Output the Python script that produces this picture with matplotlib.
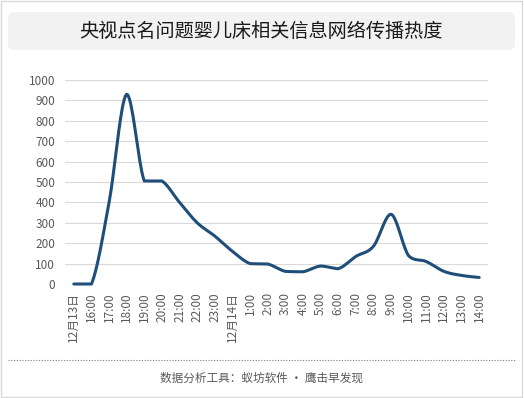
import numpy as np
import matplotlib
matplotlib.use("Agg")
import matplotlib.pyplot as plt
from matplotlib.patches import FancyBboxPatch, Rectangle
from matplotlib.lines import Line2D

plt.rcParams['font.family'] = ['Noto Sans CJK SC', 'DejaVu Sans']

# ---------------- data ----------------
title = "央视点名问题婴儿床相关信息网络传播热度"
footer = "数据分析工具：蚁坊软件 · 鹰击早发现"

hours = ["12月13日", "16:00", "17:00", "18:00", "19:00", "20:00", "21:00", "22:00", "23:00",
         "12月14日", "1:00", "2:00", "3:00", "4:00", "5:00", "6:00", "7:00", "8:00",
         "9:00", "10:00", "11:00", "12:00", "13:00", "14:00"]
heat = [0, 0, 400, 930, 505, 505, 400, 300, 235,
        160, 100, 98, 62, 60, 88, 75, 135, 185,
        342, 138, 110, 62, 42, 32]
y_ticks = [0, 100, 200, 300, 400, 500, 600, 700, 800, 900, 1000]


def smooth(xs, ys, steps=20):
    # bezier smoothing like the spreadsheet "smoothed line",
    # control points kept inside each segment's range so it doesn't overshoot
    xs = np.asarray(xs, float)
    ys = np.asarray(ys, float)
    px = np.concatenate([[xs[0]], xs, [xs[-1]]])
    py = np.concatenate([[ys[0]], ys, [ys[-1]]])
    t = np.linspace(0, 1, steps, endpoint=False)
    bez = lambda a, b1, b2, d: ((1 - t) ** 3 * a + 3 * (1 - t) ** 2 * t * b1
                                + 3 * (1 - t) * t ** 2 * b2 + t ** 3 * d)
    out_x, out_y = [], []
    for i in range(1, len(px) - 2):
        p0, p1, p2, p3 = py[i - 1], py[i], py[i + 1], py[i + 2]
        q0, q1, q2, q3 = px[i - 1], px[i], px[i + 1], px[i + 2]
        lo, hi = min(p1, p2), max(p1, p2)
        c1y = np.clip(p1 + (p2 - p0) / 6, lo, hi)
        c2y = np.clip(p2 - (p3 - p1) / 6, lo, hi)
        c1x = q1 + (q2 - q0) / 6
        c2x = q2 - (q3 - q1) / 6
        out_x.extend(bez(q1, c1x, c2x, q2))
        out_y.extend(bez(p1, c1y, c2y, p2))
    out_x.append(xs[-1])
    out_y.append(ys[-1])
    return np.array(out_x), np.array(out_y)


W, H = 524, 398
fig = plt.figure(figsize=(W / 100, H / 100), dpi=100)

# outer border
fig.patches.append(Rectangle((0.5 / W, 1.5 / H), 521 / W, 396 / H, transform=fig.transFigure,
                             fill=False, edgecolor="#d9d9d9", linewidth=1))

# title box
fig.patches.append(FancyBboxPatch((8 / W, 1 - 50 / H), 507 / W, 38 / H,
                                  boxstyle="round,pad=0,rounding_size=0.012",
                                  transform=fig.transFigure, facecolor="#f2f2f2",
                                  edgecolor="none", mutation_aspect=W / H))
fig.text(261 / W, 1 - 31 / H, title, ha="center", va="center", fontsize=13.8, color="#1a1a1a")

ax = fig.add_axes([65 / W, 1 - 284 / H, 423 / W, 204 / H])
x = np.arange(len(hours))
sx, sy = smooth(x, heat)
ax.plot(sx, sy, color="#1f4e79", linewidth=2.2, solid_capstyle="round", clip_on=False)

ax.set_xlim(-0.5, len(hours) - 0.5)
ax.set_ylim(0, 1000)
ax.set_yticks(y_ticks)
ax.set_xticks(x)
ax.set_xticklabels(hours, rotation=90, fontsize=8.5, color="#595959")
ax.tick_params(axis="y", labelsize=8.5, labelcolor="#595959", length=0, pad=7)
ax.tick_params(axis="x", length=0, pad=6)
ax.grid(axis="y", color="#d9d9d9", linewidth=0.8)
ax.set_axisbelow(True)
for s in ax.spines.values():
    s.set_visible(False)

# dotted separator and footer
fig.lines.append(Line2D([8 / W, 515 / W], [1 - 360 / H, 1 - 360 / H], transform=fig.transFigure,
                        color="#7f7f7f", linewidth=0.8, linestyle=(0, (1, 1.5))))
fig.text(262 / W, 1 - 378 / H, footer, ha="center", va="center", fontsize=8.4, color="#595959")

fig.savefig("out.png", dpi=100)
